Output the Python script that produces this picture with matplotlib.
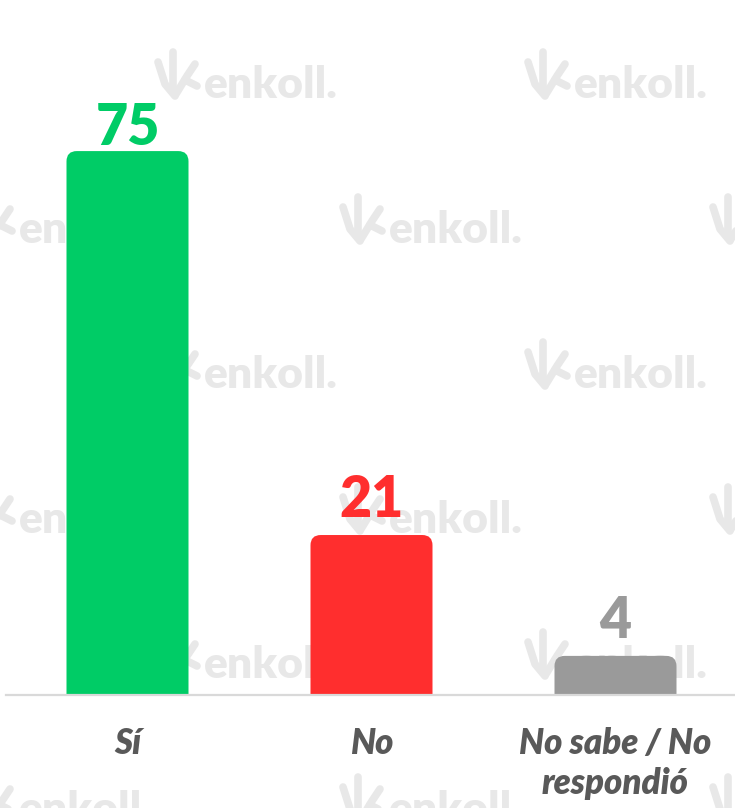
import numpy as np
import matplotlib
matplotlib.use('Agg')
import matplotlib.pyplot as plt
from matplotlib.patches import FancyBboxPatch
from matplotlib.lines import Line2D

# region Data
categories = ['Sí', 'No', 'No sabe / No\nrespondió']
values = [75, 21, 4]
bar_colors = ['#00CC66', '#FF2E2E', '#9A9A9A']
# endregion

# region Layout (pixels)
W, H = 735, 808
base_px = 695          # baseline row of the axis
px_per_unit = 7.11     # vertical scale
unit_x_px = 244        # distance between bar centres
first_x_px = 127.5
bar_width = 0.5
cap = 1.5              # rounded cap above the value
label_gap = 2.5
label_max = 77.4
wm_color = '#E8E8E8'
text_color = '#595959'
font = 'Lato'
# endregion


def fx(x):
    return x / W


def fy(y):
    return 1 - y / H


def draw_watermark(fig, x0, yb):
    # little leaf / check logo
    lw = 5.5
    segs = [
        ([x0 + 3, x0 + 10, x0 + 20], [yb - 36, yb - 14, yb - 2]),
        ([x0 + 18, x0 + 18], [yb - 46, yb - 8]),
        ([x0 + 21, x0 + 32, x0 + 40], [yb - 4, yb - 22, yb - 34]),
        ([x0 + 30, x0 + 42], [yb - 18, yb - 12]),
    ]
    for xs, ys in segs:
        fig.add_artist(Line2D([fx(v) for v in xs], [fy(v) for v in ys],
                              color=wm_color, lw=lw, solid_capstyle='round',
                              zorder=-2))
    fig.text(fx(x0 + 49), fy(yb), 'enkoll.', color=wm_color, fontsize=32,
             fontweight='heavy', family=font, ha='left', va='baseline',
             zorder=-2)


fig = plt.figure(figsize=(W / 100, H / 100), dpi=100, facecolor='white')

# watermark grid
for k in range(6):
    yb = 98 + 145 * k
    start = 155 if k % 2 == 0 else -30
    for j in range(3):
        draw_watermark(fig, start + 370 * j, yb)

ax = fig.add_axes([0, 1 - base_px / H, 1, base_px / H])
ax.set_facecolor('none')
ax.set_xlim(-first_x_px / unit_x_px, (W - first_x_px) / unit_x_px)
ax.set_ylim(0, base_px / px_per_unit)
for s in ax.spines.values():
    s.set_visible(False)
ax.set_xticks([])
ax.set_yticks([])

x = np.arange(len(categories))
mut_aspect = unit_x_px / px_per_unit
for xi, v, c in zip(x, values, bar_colors):
    box = FancyBboxPatch((xi - bar_width / 2, -3), bar_width, v + cap + 3,
                         boxstyle='round,pad=0,rounding_size=0.042',
                         mutation_aspect=mut_aspect, fc=c, ec='none',
                         zorder=2)
    ax.add_patch(box)
    ty = min(v + cap + label_gap, label_max)
    ax.text(xi, ty, str(v), ha='center', va='baseline', color=c,
            fontsize=40, fontweight='heavy', family=font, zorder=3)

ax.axhline(0, xmin=6 / W, xmax=1, color='#D9D9D9', lw=1.6, clip_on=False,
           zorder=4)

for xi, lab in zip(x, categories):
    ax.text(xi, -(727 - base_px) / base_px, lab, transform=ax.get_xaxis_transform(),
            ha='center', va='top', multialignment='center', color=text_color,
            fontsize=25, fontweight='heavy', style='italic', family=font,
            linespacing=1.25, clip_on=False)

fig.savefig('out.png', dpi=100, facecolor='white')
